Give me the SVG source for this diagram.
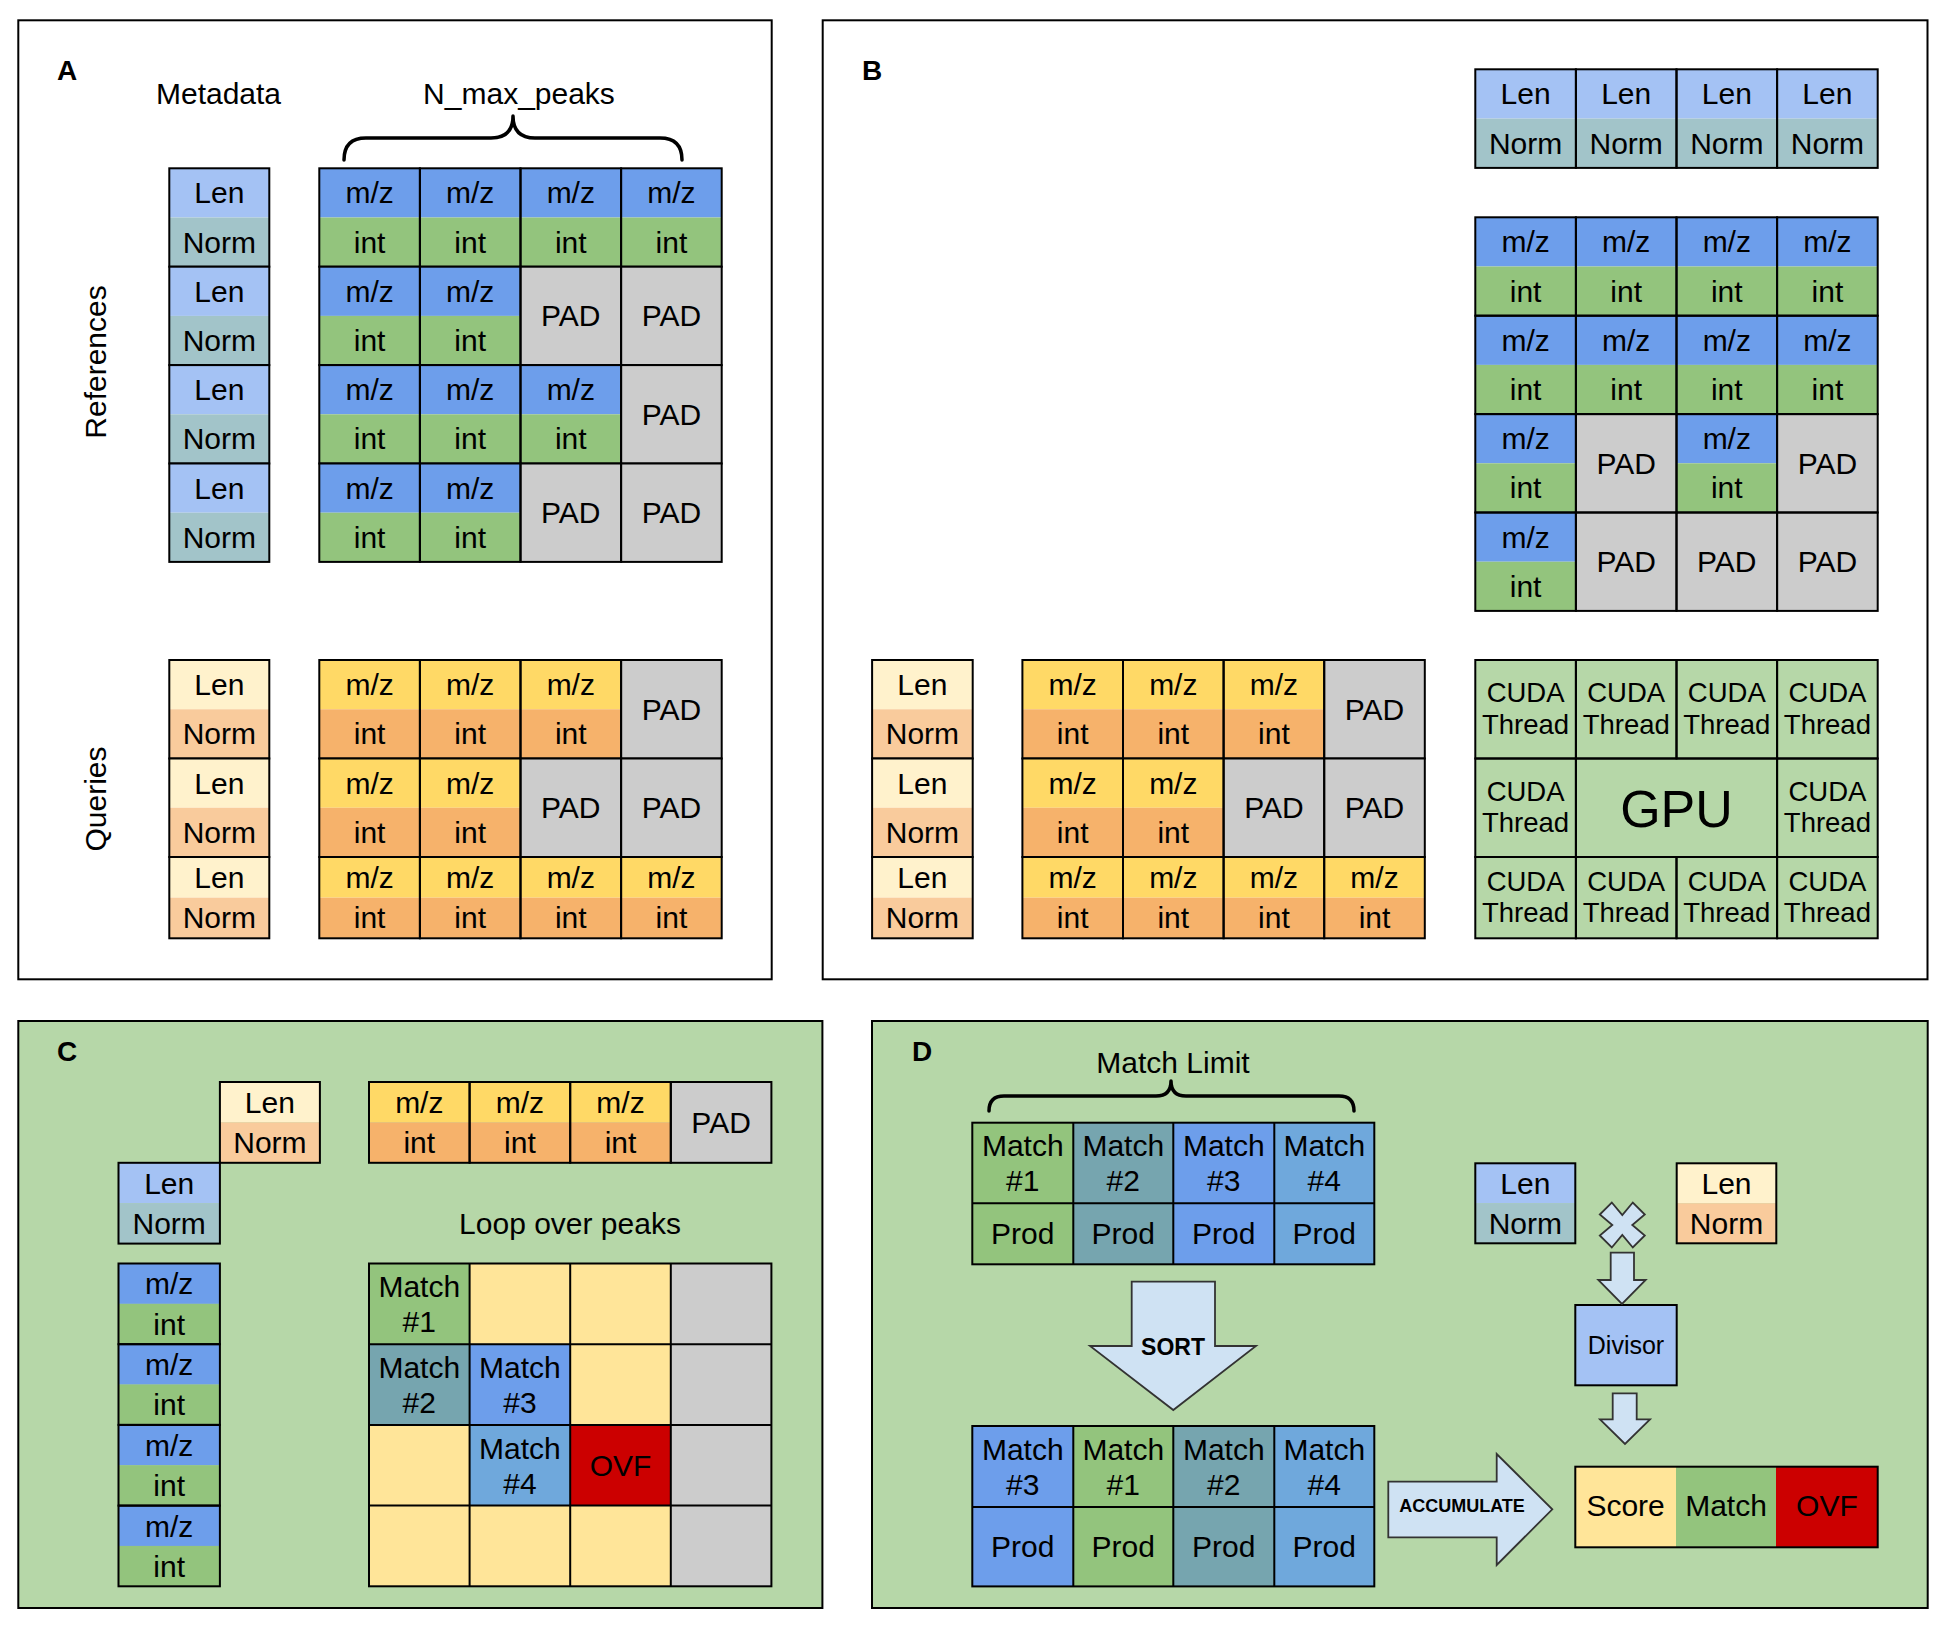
<svg xmlns="http://www.w3.org/2000/svg" width="1948" height="1634" viewBox="0 0 1948 1634">
<style>
.pn{fill:#fff;stroke:#000;stroke-width:2}
.pg{fill:#b6d7a8;stroke:#000;stroke-width:2}
.o{fill:none;stroke:#000;stroke-width:2}
.t{font-family:"Liberation Sans",Arial,sans-serif;font-size:30px;text-anchor:middle;fill:#000}
.cu{font-family:"Liberation Sans",Arial,sans-serif;font-size:27.5px;text-anchor:middle;fill:#000}
.lb{font-family:"Liberation Sans",Arial,sans-serif;font-size:28px;font-weight:bold;fill:#000}
.bt{font-family:"Liberation Sans",Arial,sans-serif;font-weight:bold;text-anchor:middle;fill:#000}
.br{fill:none;stroke:#000;stroke-width:3.5;stroke-linecap:round;stroke-linejoin:round}
.ar{fill:#cfe2f3;stroke:#333;stroke-width:1.8;stroke-linejoin:miter}
.mz{fill:#6d9eeb}.in{fill:#93c47d}.ln{fill:#a4c2f4}.nm{fill:#a2c4c9}.pad{fill:#cccccc}
.qmz{fill:#ffd966}.qin{fill:#f6b26b}.qln{fill:#fff2cc}.qnm{fill:#f9cb9c}
.yl{fill:#ffe599}.m2{fill:#76a5af}.m4{fill:#6fa8dc}.ovf{fill:#cc0000}.gp{fill:#b6d7a8}
</style>

<!-- ================= PANEL A ================= -->
<g id="panelA">
<rect class="pn" x="18.3" y="20.3" width="753.4" height="959"/>
<text class="lb" x="57" y="80">A</text>
<text class="t" x="218.5" y="104">Metadata</text>
<text class="t" x="519" y="104">N_max_peaks</text>
<path class="br" d="M344,160 Q344,138 366,138 L491,138 Q513,138 513,116 Q513,138 535,138 L660,138 Q682,138 682,160"/>
<text class="t" transform="translate(106,362) rotate(-90)">References</text>
<text class="t" transform="translate(106,799) rotate(-90)">Queries</text>
</g>

<g id="A-ref-meta">
<rect class="ln" x="169.3" y="168.3" width="100" height="49.2"/><rect class="nm" x="169.3" y="217.5" width="100" height="49.2"/><rect class="o" x="169.3" y="168.3" width="100" height="98.4"/>
<text class="t" x="219.3" y="203.4">Len</text><text class="t" x="219.3" y="252.6">Norm</text>
<rect class="ln" x="169.3" y="266.7" width="100" height="49.2"/><rect class="nm" x="169.3" y="315.9" width="100" height="49.2"/><rect class="o" x="169.3" y="266.7" width="100" height="98.4"/>
<text class="t" x="219.3" y="301.8">Len</text><text class="t" x="219.3" y="351">Norm</text>
<rect class="ln" x="169.3" y="365.1" width="100" height="49.2"/><rect class="nm" x="169.3" y="414.3" width="100" height="49.2"/><rect class="o" x="169.3" y="365.1" width="100" height="98.4"/>
<text class="t" x="219.3" y="400.2">Len</text><text class="t" x="219.3" y="449.4">Norm</text>
<rect class="ln" x="169.3" y="463.5" width="100" height="49.2"/><rect class="nm" x="169.3" y="512.7" width="100" height="49.2"/><rect class="o" x="169.3" y="463.5" width="100" height="98.4"/>
<text class="t" x="219.3" y="498.6">Len</text><text class="t" x="219.3" y="547.8">Norm</text>
</g>

<g id="A-ref-peaks">
<!-- row 0 -->
<rect class="mz" x="319.3" y="168.3" width="402.4" height="49.2"/><rect class="in" x="319.3" y="217.5" width="402.4" height="49.2"/>
<rect class="o" x="319.3" y="168.3" width="100.6" height="98.4"/><rect class="o" x="419.9" y="168.3" width="100.6" height="98.4"/><rect class="o" x="520.5" y="168.3" width="100.6" height="98.4"/><rect class="o" x="621.1" y="168.3" width="100.6" height="98.4"/>
<text class="t" x="369.6" y="203.4">m/z</text><text class="t" x="470.2" y="203.4">m/z</text><text class="t" x="570.8" y="203.4">m/z</text><text class="t" x="671.4" y="203.4">m/z</text>
<text class="t" x="369.6" y="252.6">int</text><text class="t" x="470.2" y="252.6">int</text><text class="t" x="570.8" y="252.6">int</text><text class="t" x="671.4" y="252.6">int</text>
<!-- row 1 -->
<rect class="mz" x="319.3" y="266.7" width="201.2" height="49.2"/><rect class="in" x="319.3" y="315.9" width="201.2" height="49.2"/><rect class="pad" x="520.5" y="266.7" width="201.2" height="98.4"/>
<rect class="o" x="319.3" y="266.7" width="100.6" height="98.4"/><rect class="o" x="419.9" y="266.7" width="100.6" height="98.4"/><rect class="o" x="520.5" y="266.7" width="100.6" height="98.4"/><rect class="o" x="621.1" y="266.7" width="100.6" height="98.4"/>
<text class="t" x="369.6" y="301.8">m/z</text><text class="t" x="470.2" y="301.8">m/z</text>
<text class="t" x="369.6" y="351">int</text><text class="t" x="470.2" y="351">int</text>
<text class="t" x="570.8" y="326.4">PAD</text><text class="t" x="671.4" y="326.4">PAD</text>
<!-- row 2 -->
<rect class="mz" x="319.3" y="365.1" width="301.8" height="49.2"/><rect class="in" x="319.3" y="414.3" width="301.8" height="49.2"/><rect class="pad" x="621.1" y="365.1" width="100.6" height="98.4"/>
<rect class="o" x="319.3" y="365.1" width="100.6" height="98.4"/><rect class="o" x="419.9" y="365.1" width="100.6" height="98.4"/><rect class="o" x="520.5" y="365.1" width="100.6" height="98.4"/><rect class="o" x="621.1" y="365.1" width="100.6" height="98.4"/>
<text class="t" x="369.6" y="400.2">m/z</text><text class="t" x="470.2" y="400.2">m/z</text><text class="t" x="570.8" y="400.2">m/z</text>
<text class="t" x="369.6" y="449.4">int</text><text class="t" x="470.2" y="449.4">int</text><text class="t" x="570.8" y="449.4">int</text>
<text class="t" x="671.4" y="424.8">PAD</text>
<!-- row 3 -->
<rect class="mz" x="319.3" y="463.5" width="201.2" height="49.2"/><rect class="in" x="319.3" y="512.7" width="201.2" height="49.2"/><rect class="pad" x="520.5" y="463.5" width="201.2" height="98.4"/>
<rect class="o" x="319.3" y="463.5" width="100.6" height="98.4"/><rect class="o" x="419.9" y="463.5" width="100.6" height="98.4"/><rect class="o" x="520.5" y="463.5" width="100.6" height="98.4"/><rect class="o" x="621.1" y="463.5" width="100.6" height="98.4"/>
<text class="t" x="369.6" y="498.6">m/z</text><text class="t" x="470.2" y="498.6">m/z</text>
<text class="t" x="369.6" y="547.8">int</text><text class="t" x="470.2" y="547.8">int</text>
<text class="t" x="570.8" y="523.2">PAD</text><text class="t" x="671.4" y="523.2">PAD</text>
</g>

<g id="A-query-meta">
<rect class="qln" x="169.3" y="660" width="100" height="49.25"/><rect class="qnm" x="169.3" y="709.25" width="100" height="49.25"/><rect class="o" x="169.3" y="660" width="100" height="98.5"/>
<text class="t" x="219.3" y="695.1">Len</text><text class="t" x="219.3" y="744.3">Norm</text>
<rect class="qln" x="169.3" y="758.5" width="100" height="49.25"/><rect class="qnm" x="169.3" y="807.75" width="100" height="49.25"/><rect class="o" x="169.3" y="758.5" width="100" height="98.5"/>
<text class="t" x="219.3" y="793.6">Len</text><text class="t" x="219.3" y="842.8">Norm</text>
<rect class="qln" x="169.3" y="857" width="100" height="40.65"/><rect class="qnm" x="169.3" y="897.65" width="100" height="40.65"/><rect class="o" x="169.3" y="857" width="100" height="81.3"/>
<text class="t" x="219.3" y="887.8">Len</text><text class="t" x="219.3" y="928.4">Norm</text>
</g>

<g id="A-query-peaks">
<rect class="qmz" x="319.3" y="660" width="301.8" height="49.25"/><rect class="qin" x="319.3" y="709.25" width="301.8" height="49.25"/><rect class="pad" x="621.1" y="660" width="100.6" height="98.5"/>
<rect class="o" x="319.3" y="660" width="100.6" height="98.5"/><rect class="o" x="419.9" y="660" width="100.6" height="98.5"/><rect class="o" x="520.5" y="660" width="100.6" height="98.5"/><rect class="o" x="621.1" y="660" width="100.6" height="98.5"/>
<text class="t" x="369.6" y="695.1">m/z</text><text class="t" x="470.2" y="695.1">m/z</text><text class="t" x="570.8" y="695.1">m/z</text>
<text class="t" x="369.6" y="744.3">int</text><text class="t" x="470.2" y="744.3">int</text><text class="t" x="570.8" y="744.3">int</text>
<text class="t" x="671.4" y="719.7">PAD</text>
<rect class="qmz" x="319.3" y="758.5" width="201.2" height="49.25"/><rect class="qin" x="319.3" y="807.75" width="201.2" height="49.25"/><rect class="pad" x="520.5" y="758.5" width="201.2" height="98.5"/>
<rect class="o" x="319.3" y="758.5" width="100.6" height="98.5"/><rect class="o" x="419.9" y="758.5" width="100.6" height="98.5"/><rect class="o" x="520.5" y="758.5" width="100.6" height="98.5"/><rect class="o" x="621.1" y="758.5" width="100.6" height="98.5"/>
<text class="t" x="369.6" y="793.6">m/z</text><text class="t" x="470.2" y="793.6">m/z</text>
<text class="t" x="369.6" y="842.8">int</text><text class="t" x="470.2" y="842.8">int</text>
<text class="t" x="570.8" y="818.3">PAD</text><text class="t" x="671.4" y="818.3">PAD</text>
<rect class="qmz" x="319.3" y="857" width="402.4" height="40.65"/><rect class="qin" x="319.3" y="897.65" width="402.4" height="40.65"/>
<rect class="o" x="319.3" y="857" width="100.6" height="81.3"/><rect class="o" x="419.9" y="857" width="100.6" height="81.3"/><rect class="o" x="520.5" y="857" width="100.6" height="81.3"/><rect class="o" x="621.1" y="857" width="100.6" height="81.3"/>
<text class="t" x="369.6" y="887.8">m/z</text><text class="t" x="470.2" y="887.8">m/z</text><text class="t" x="570.8" y="887.8">m/z</text><text class="t" x="671.4" y="887.8">m/z</text>
<text class="t" x="369.6" y="928.4">int</text><text class="t" x="470.2" y="928.4">int</text><text class="t" x="570.8" y="928.4">int</text><text class="t" x="671.4" y="928.4">int</text>
</g>

<!-- ================= PANEL B ================= -->
<g id="panelB">
<rect class="pn" x="822.7" y="20.3" width="1104.8" height="959"/>
<text class="lb" x="862" y="80">B</text>
</g>

<g id="B-ref-meta">
<rect class="ln" x="1475.3" y="69.3" width="402.4" height="49.3"/><rect class="nm" x="1475.3" y="118.6" width="402.4" height="49.3"/>
<rect class="o" x="1475.3" y="69.3" width="100.6" height="98.6"/><rect class="o" x="1575.9" y="69.3" width="100.6" height="98.6"/><rect class="o" x="1676.5" y="69.3" width="100.6" height="98.6"/><rect class="o" x="1777.1" y="69.3" width="100.6" height="98.6"/>
<text class="t" x="1525.6" y="104.4">Len</text><text class="t" x="1626.2" y="104.4">Len</text><text class="t" x="1726.8" y="104.4">Len</text><text class="t" x="1827.4" y="104.4">Len</text>
<text class="t" x="1525.6" y="153.7">Norm</text><text class="t" x="1626.2" y="153.7">Norm</text><text class="t" x="1726.8" y="153.7">Norm</text><text class="t" x="1827.4" y="153.7">Norm</text>
</g>

<g id="B-ref-peaks">
<rect class="mz" x="1475.3" y="217.3" width="402.4" height="49.2"/><rect class="in" x="1475.3" y="266.5" width="402.4" height="49.2"/>
<rect class="mz" x="1475.3" y="315.7" width="402.4" height="49.2"/><rect class="in" x="1475.3" y="364.9" width="402.4" height="49.2"/>
<rect class="mz" x="1475.3" y="414.1" width="100.6" height="49.2"/><rect class="in" x="1475.3" y="463.3" width="100.6" height="49.2"/>
<rect class="pad" x="1575.9" y="414.1" width="100.6" height="98.4"/>
<rect class="mz" x="1676.5" y="414.1" width="100.6" height="49.2"/><rect class="in" x="1676.5" y="463.3" width="100.6" height="49.2"/>
<rect class="pad" x="1777.1" y="414.1" width="100.6" height="98.4"/>
<rect class="mz" x="1475.3" y="512.5" width="100.6" height="49.2"/><rect class="in" x="1475.3" y="561.7" width="100.6" height="49.2"/>
<rect class="pad" x="1575.9" y="512.5" width="301.8" height="98.4"/>
<rect class="o" x="1475.3" y="217.3" width="100.6" height="98.4"/><rect class="o" x="1575.9" y="217.3" width="100.6" height="98.4"/><rect class="o" x="1676.5" y="217.3" width="100.6" height="98.4"/><rect class="o" x="1777.1" y="217.3" width="100.6" height="98.4"/>
<rect class="o" x="1475.3" y="315.7" width="100.6" height="98.4"/><rect class="o" x="1575.9" y="315.7" width="100.6" height="98.4"/><rect class="o" x="1676.5" y="315.7" width="100.6" height="98.4"/><rect class="o" x="1777.1" y="315.7" width="100.6" height="98.4"/>
<rect class="o" x="1475.3" y="414.1" width="100.6" height="98.4"/><rect class="o" x="1575.9" y="414.1" width="100.6" height="98.4"/><rect class="o" x="1676.5" y="414.1" width="100.6" height="98.4"/><rect class="o" x="1777.1" y="414.1" width="100.6" height="98.4"/>
<rect class="o" x="1475.3" y="512.5" width="100.6" height="98.4"/><rect class="o" x="1575.9" y="512.5" width="100.6" height="98.4"/><rect class="o" x="1676.5" y="512.5" width="100.6" height="98.4"/><rect class="o" x="1777.1" y="512.5" width="100.6" height="98.4"/>
<text class="t" x="1525.6" y="252.4">m/z</text><text class="t" x="1626.2" y="252.4">m/z</text><text class="t" x="1726.8" y="252.4">m/z</text><text class="t" x="1827.4" y="252.4">m/z</text>
<text class="t" x="1525.6" y="301.6">int</text><text class="t" x="1626.2" y="301.6">int</text><text class="t" x="1726.8" y="301.6">int</text><text class="t" x="1827.4" y="301.6">int</text>
<text class="t" x="1525.6" y="350.8">m/z</text><text class="t" x="1626.2" y="350.8">m/z</text><text class="t" x="1726.8" y="350.8">m/z</text><text class="t" x="1827.4" y="350.8">m/z</text>
<text class="t" x="1525.6" y="400">int</text><text class="t" x="1626.2" y="400">int</text><text class="t" x="1726.8" y="400">int</text><text class="t" x="1827.4" y="400">int</text>
<text class="t" x="1525.6" y="449.2">m/z</text><text class="t" x="1626.2" y="474">PAD</text><text class="t" x="1726.8" y="449.2">m/z</text><text class="t" x="1827.4" y="474">PAD</text>
<text class="t" x="1525.6" y="498.4">int</text><text class="t" x="1726.8" y="498.4">int</text>
<text class="t" x="1525.6" y="547.6">m/z</text><text class="t" x="1626.2" y="572.4">PAD</text><text class="t" x="1726.8" y="572.4">PAD</text><text class="t" x="1827.4" y="572.4">PAD</text>
<text class="t" x="1525.6" y="596.8">int</text>
</g>

<g id="B-query-meta">
<rect class="qln" x="872.1" y="660" width="100.6" height="49.25"/><rect class="qnm" x="872.1" y="709.25" width="100.6" height="49.25"/><rect class="o" x="872.1" y="660" width="100.6" height="98.5"/>
<text class="t" x="922.4" y="695.1">Len</text><text class="t" x="922.4" y="744.3">Norm</text>
<rect class="qln" x="872.1" y="758.5" width="100.6" height="49.25"/><rect class="qnm" x="872.1" y="807.75" width="100.6" height="49.25"/><rect class="o" x="872.1" y="758.5" width="100.6" height="98.5"/>
<text class="t" x="922.4" y="793.6">Len</text><text class="t" x="922.4" y="842.8">Norm</text>
<rect class="qln" x="872.1" y="857" width="100.6" height="40.65"/><rect class="qnm" x="872.1" y="897.65" width="100.6" height="40.65"/><rect class="o" x="872.1" y="857" width="100.6" height="81.3"/>
<text class="t" x="922.4" y="887.8">Len</text><text class="t" x="922.4" y="928.4">Norm</text>
</g>

<g id="B-query-peaks">
<rect class="qmz" x="1022.4" y="660" width="301.8" height="49.25"/><rect class="qin" x="1022.4" y="709.25" width="301.8" height="49.25"/><rect class="pad" x="1324.2" y="660" width="100.6" height="98.5"/>
<rect class="o" x="1022.4" y="660" width="100.6" height="98.5"/><rect class="o" x="1123" y="660" width="100.6" height="98.5"/><rect class="o" x="1223.6" y="660" width="100.6" height="98.5"/><rect class="o" x="1324.2" y="660" width="100.6" height="98.5"/>
<text class="t" x="1072.7" y="695.1">m/z</text><text class="t" x="1173.3" y="695.1">m/z</text><text class="t" x="1273.9" y="695.1">m/z</text>
<text class="t" x="1072.7" y="744.3">int</text><text class="t" x="1173.3" y="744.3">int</text><text class="t" x="1273.9" y="744.3">int</text>
<text class="t" x="1374.5" y="719.7">PAD</text>
<rect class="qmz" x="1022.4" y="758.5" width="201.2" height="49.25"/><rect class="qin" x="1022.4" y="807.75" width="201.2" height="49.25"/><rect class="pad" x="1223.6" y="758.5" width="201.2" height="98.5"/>
<rect class="o" x="1022.4" y="758.5" width="100.6" height="98.5"/><rect class="o" x="1123" y="758.5" width="100.6" height="98.5"/><rect class="o" x="1223.6" y="758.5" width="100.6" height="98.5"/><rect class="o" x="1324.2" y="758.5" width="100.6" height="98.5"/>
<text class="t" x="1072.7" y="793.6">m/z</text><text class="t" x="1173.3" y="793.6">m/z</text>
<text class="t" x="1072.7" y="842.8">int</text><text class="t" x="1173.3" y="842.8">int</text>
<text class="t" x="1273.9" y="818.3">PAD</text><text class="t" x="1374.5" y="818.3">PAD</text>
<rect class="qmz" x="1022.4" y="857" width="402.4" height="40.65"/><rect class="qin" x="1022.4" y="897.65" width="402.4" height="40.65"/>
<rect class="o" x="1022.4" y="857" width="100.6" height="81.3"/><rect class="o" x="1123" y="857" width="100.6" height="81.3"/><rect class="o" x="1223.6" y="857" width="100.6" height="81.3"/><rect class="o" x="1324.2" y="857" width="100.6" height="81.3"/>
<text class="t" x="1072.7" y="887.8">m/z</text><text class="t" x="1173.3" y="887.8">m/z</text><text class="t" x="1273.9" y="887.8">m/z</text><text class="t" x="1374.5" y="887.8">m/z</text>
<text class="t" x="1072.7" y="928.4">int</text><text class="t" x="1173.3" y="928.4">int</text><text class="t" x="1273.9" y="928.4">int</text><text class="t" x="1374.5" y="928.4">int</text>
</g>

<g id="B-gpu">
<rect class="gp" x="1475.3" y="660" width="402.4" height="278.3"/>
<rect class="o" x="1475.3" y="660" width="100.6" height="98.5"/><rect class="o" x="1575.9" y="660" width="100.6" height="98.5"/><rect class="o" x="1676.5" y="660" width="100.6" height="98.5"/><rect class="o" x="1777.1" y="660" width="100.6" height="98.5"/>
<rect class="o" x="1475.3" y="758.5" width="100.6" height="98.5"/><rect class="o" x="1575.9" y="758.5" width="201.2" height="98.5"/><rect class="o" x="1777.1" y="758.5" width="100.6" height="98.5"/>
<rect class="o" x="1475.3" y="857" width="100.6" height="81.3"/><rect class="o" x="1575.9" y="857" width="100.6" height="81.3"/><rect class="o" x="1676.5" y="857" width="100.6" height="81.3"/><rect class="o" x="1777.1" y="857" width="100.6" height="81.3"/>
<text class="cu" x="1525.6" y="702.3">CUDA</text><text class="cu" x="1626.2" y="702.3">CUDA</text><text class="cu" x="1726.8" y="702.3">CUDA</text><text class="cu" x="1827.4" y="702.3">CUDA</text>
<text class="cu" x="1525.6" y="733.8">Thread</text><text class="cu" x="1626.2" y="733.8">Thread</text><text class="cu" x="1726.8" y="733.8">Thread</text><text class="cu" x="1827.4" y="733.8">Thread</text>
<text class="cu" x="1525.6" y="800.8">CUDA</text><text class="cu" x="1827.4" y="800.8">CUDA</text>
<text class="cu" x="1525.6" y="832.3">Thread</text><text class="cu" x="1827.4" y="832.3">Thread</text>
<text class="t" x="1676.5" y="826.7" style="font-size:52px">GPU</text>
<text class="cu" x="1525.6" y="890.7">CUDA</text><text class="cu" x="1626.2" y="890.7">CUDA</text><text class="cu" x="1726.8" y="890.7">CUDA</text><text class="cu" x="1827.4" y="890.7">CUDA</text>
<text class="cu" x="1525.6" y="922.2">Thread</text><text class="cu" x="1626.2" y="922.2">Thread</text><text class="cu" x="1726.8" y="922.2">Thread</text><text class="cu" x="1827.4" y="922.2">Thread</text>
</g>

<!-- ================= PANEL C ================= -->
<g id="panelC">
<rect class="pg" x="18.3" y="1021" width="804.1" height="587"/>
<text class="lb" x="57" y="1060.7">C</text>
<text class="t" x="570" y="1234">Loop over peaks</text>
</g>

<g id="C-query-meta">
<rect class="qln" x="219.9" y="1082" width="100" height="40.4"/><rect class="qnm" x="219.9" y="1122.4" width="100" height="40.4"/><rect class="o" x="219.9" y="1082" width="100" height="80.8"/>
<text class="t" x="269.9" y="1112.7">Len</text><text class="t" x="269.9" y="1153.1">Norm</text>
</g>
<g id="C-ref-meta">
<rect class="ln" x="118.5" y="1162.8" width="101.4" height="40.4"/><rect class="nm" x="118.5" y="1203.2" width="101.4" height="40.4"/><rect class="o" x="118.5" y="1162.8" width="101.4" height="80.8"/>
<text class="t" x="169.2" y="1193.5">Len</text><text class="t" x="169.2" y="1233.9">Norm</text>
</g>

<g id="C-query-peaks">
<rect class="qmz" x="369" y="1082" width="301.8" height="40.4"/><rect class="qin" x="369" y="1122.4" width="301.8" height="40.4"/><rect class="pad" x="670.8" y="1082" width="100.6" height="80.8"/>
<rect class="o" x="369" y="1082" width="100.6" height="80.8"/><rect class="o" x="469.6" y="1082" width="100.6" height="80.8"/><rect class="o" x="570.2" y="1082" width="100.6" height="80.8"/><rect class="o" x="670.8" y="1082" width="100.6" height="80.8"/>
<text class="t" x="419.3" y="1112.7">m/z</text><text class="t" x="519.9" y="1112.7">m/z</text><text class="t" x="620.5" y="1112.7">m/z</text>
<text class="t" x="419.3" y="1153.1">int</text><text class="t" x="519.9" y="1153.1">int</text><text class="t" x="620.5" y="1153.1">int</text>
<text class="t" x="721.1" y="1132.9">PAD</text>
</g>

<g id="C-ref-peaks">
<rect class="mz" x="118.5" y="1263.5" width="101.4" height="40.35"/><rect class="in" x="118.5" y="1303.85" width="101.4" height="40.35"/>
<rect class="mz" x="118.5" y="1344.2" width="101.4" height="40.35"/><rect class="in" x="118.5" y="1384.55" width="101.4" height="40.35"/>
<rect class="mz" x="118.5" y="1424.9" width="101.4" height="40.35"/><rect class="in" x="118.5" y="1465.25" width="101.4" height="40.35"/>
<rect class="mz" x="118.5" y="1505.6" width="101.4" height="40.35"/><rect class="in" x="118.5" y="1545.95" width="101.4" height="40.35"/>
<rect class="o" x="118.5" y="1263.5" width="101.4" height="80.7"/><rect class="o" x="118.5" y="1344.2" width="101.4" height="80.7"/><rect class="o" x="118.5" y="1424.9" width="101.4" height="80.7"/><rect class="o" x="118.5" y="1505.6" width="101.4" height="80.7"/>
<text class="t" x="169.2" y="1294.4">m/z</text><text class="t" x="169.2" y="1334.7">int</text>
<text class="t" x="169.2" y="1375.1">m/z</text><text class="t" x="169.2" y="1415.4">int</text>
<text class="t" x="169.2" y="1455.8">m/z</text><text class="t" x="169.2" y="1496.1">int</text>
<text class="t" x="169.2" y="1536.5">m/z</text><text class="t" x="169.2" y="1576.8">int</text>
</g>

<g id="C-loop-grid">
<rect class="yl" x="369" y="1263.5" width="301.8" height="322.8"/>
<rect class="pad" x="670.8" y="1263.5" width="100.6" height="322.8"/>
<rect class="in" x="369" y="1263.5" width="100.6" height="80.7"/>
<rect class="m2" x="369" y="1344.2" width="100.6" height="80.7"/>
<rect class="mz" x="469.6" y="1344.2" width="100.6" height="80.7"/>
<rect class="m4" x="469.6" y="1424.9" width="100.6" height="80.7"/>
<rect class="ovf" x="570.2" y="1424.9" width="100.6" height="80.7"/>
<rect class="o" x="369" y="1263.5" width="402.4" height="322.8"/>
<path class="o" d="M469.6,1263.5V1586.3M570.2,1263.5V1586.3M670.8,1263.5V1586.3M369,1344.2H771.4M369,1424.9H771.4M369,1505.6H771.4"/>
<text class="t" x="419.3" y="1297.1">Match</text><text class="t" x="419.3" y="1332.1">#1</text>
<text class="t" x="419.3" y="1377.8">Match</text><text class="t" x="419.3" y="1412.8">#2</text>
<text class="t" x="519.9" y="1377.8">Match</text><text class="t" x="519.9" y="1412.8">#3</text>
<text class="t" x="519.9" y="1458.5">Match</text><text class="t" x="519.9" y="1493.5">#4</text>
<text class="t" x="620.5" y="1475.8">OVF</text>
</g>

<!-- ================= PANEL D ================= -->
<g id="panelD">
<rect class="pg" x="872" y="1021" width="1055.7" height="587"/>
<text class="lb" x="912" y="1061">D</text>
<text class="t" x="1173" y="1072.7">Match Limit</text>
<path class="br" d="M989,1111 Q989,1096 1004,1096 L1156,1096 Q1171,1096 1171,1081 Q1171,1096 1186,1096 L1339,1096 Q1354,1096 1354,1111"/>
</g>

<g id="D-matches">
<rect class="in" x="972.3" y="1122.7" width="101" height="141.6"/>
<rect class="m2" x="1073.3" y="1122.7" width="100" height="141.6"/>
<rect class="mz" x="1173.3" y="1122.7" width="101" height="141.6"/>
<rect class="m4" x="1274.3" y="1122.7" width="100" height="141.6"/>
<rect class="o" x="972.3" y="1122.7" width="402" height="141.6"/>
<path class="o" d="M1073.3,1122.7V1264.3M1173.3,1122.7V1264.3M1274.3,1122.7V1264.3M972.3,1203.3H1374.3"/>
<text class="t" x="1022.8" y="1156.2">Match</text><text class="t" x="1123.3" y="1156.2">Match</text><text class="t" x="1223.8" y="1156.2">Match</text><text class="t" x="1324.3" y="1156.2">Match</text>
<text class="t" x="1022.8" y="1191.2">#1</text><text class="t" x="1123.3" y="1191.2">#2</text><text class="t" x="1223.8" y="1191.2">#3</text><text class="t" x="1324.3" y="1191.2">#4</text>
<text class="t" x="1022.8" y="1244">Prod</text><text class="t" x="1123.3" y="1244">Prod</text><text class="t" x="1223.8" y="1244">Prod</text><text class="t" x="1324.3" y="1244">Prod</text>
</g>

<g id="D-sorted">
<rect class="mz" x="972.3" y="1426" width="101" height="160.4"/>
<rect class="in" x="1073.3" y="1426" width="100" height="160.4"/>
<rect class="m2" x="1173.3" y="1426" width="101" height="160.4"/>
<rect class="m4" x="1274.3" y="1426" width="100" height="160.4"/>
<rect class="o" x="972.3" y="1426" width="402" height="160.4"/>
<path class="o" d="M1073.3,1426V1586.4M1173.3,1426V1586.4M1274.3,1426V1586.4M972.3,1507H1374.3"/>
<text class="t" x="1022.8" y="1459.8">Match</text><text class="t" x="1123.3" y="1459.8">Match</text><text class="t" x="1223.8" y="1459.8">Match</text><text class="t" x="1324.3" y="1459.8">Match</text>
<text class="t" x="1022.8" y="1494.8">#3</text><text class="t" x="1123.3" y="1494.8">#1</text><text class="t" x="1223.8" y="1494.8">#2</text><text class="t" x="1324.3" y="1494.8">#4</text>
<text class="t" x="1022.8" y="1557.2">Prod</text><text class="t" x="1123.3" y="1557.2">Prod</text><text class="t" x="1223.8" y="1557.2">Prod</text><text class="t" x="1324.3" y="1557.2">Prod</text>
</g>

<g id="D-ref-meta">
<rect class="ln" x="1475.3" y="1163.3" width="100" height="40"/><rect class="nm" x="1475.3" y="1203.3" width="100" height="40"/><rect class="o" x="1475.3" y="1163.3" width="100" height="80"/>
<text class="t" x="1525.3" y="1193.8">Len</text><text class="t" x="1525.3" y="1233.8">Norm</text>
</g>
<g id="D-query-meta">
<rect class="qln" x="1676.7" y="1163.3" width="99.6" height="40"/><rect class="qnm" x="1676.7" y="1203.3" width="99.6" height="40"/><rect class="o" x="1676.7" y="1163.3" width="99.6" height="80"/>
<text class="t" x="1726.5" y="1193.8">Len</text><text class="t" x="1726.5" y="1233.8">Norm</text>
</g>
<g id="D-times">
<path class="ar" d="M1611.8,1202.5 L1622.3,1215 L1632.8,1202.5 L1644.8,1214.5 L1632.3,1225 L1644.8,1235.5 L1632.8,1247.5 L1622.3,1235 L1611.8,1247.5 L1599.8,1235.5 L1612.3,1225 L1599.8,1214.5 Z"/>
</g>
<g id="D-divisor">
<rect class="ln" x="1575.3" y="1305" width="101.4" height="80.3" style="stroke:#000;stroke-width:2"/>
<text class="t" x="1626" y="1354" style="font-size:25px">Divisor</text>
</g>
<g id="D-result">
<rect class="yl" x="1575.3" y="1466.7" width="100.7" height="80.6"/>
<rect class="in" x="1676" y="1466.7" width="100" height="80.6"/>
<rect class="ovf" x="1776" y="1466.7" width="101.7" height="80.6"/>
<rect class="o" x="1575.3" y="1466.7" width="302.4" height="80.6"/>
<text class="t" x="1625.6" y="1516">Score</text><text class="t" x="1726" y="1516">Match</text><text class="t" x="1826.9" y="1516">OVF</text>
</g>

<g id="connectors">
<polygon class="ar" points="1131.7,1281.7 1215,1281.7 1215,1346 1256,1346 1173.3,1410 1090,1346 1131.7,1346"/>
<text class="bt" x="1173" y="1355" style="font-size:23px">SORT</text>
<polygon class="ar" points="1610.7,1252.7 1634,1252.7 1634,1280 1645.7,1280 1622,1304 1598.3,1280 1610.7,1280"/>
<polygon class="ar" points="1612.7,1393.3 1636.7,1393.3 1636.7,1419.3 1650,1419.3 1625,1444 1600,1419.3 1612.7,1419.3"/>
<polygon class="ar" points="1388.3,1481.7 1496.7,1481.7 1496.7,1454 1552.3,1509.3 1496.7,1565 1496.7,1537.3 1388.3,1537.3"/>
<text class="bt" x="1462" y="1512.3" style="font-size:18px">ACCUMULATE</text>
</g>
</svg>
